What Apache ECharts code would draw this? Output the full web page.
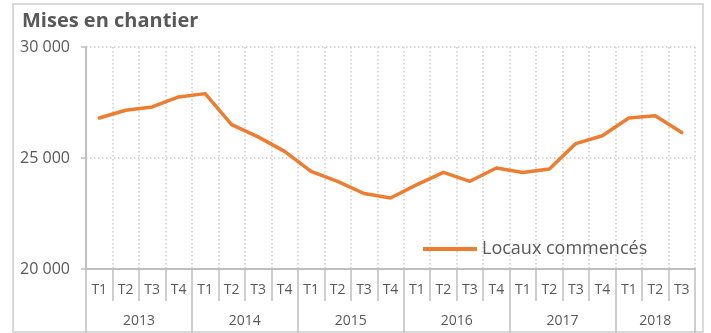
<!DOCTYPE html>
<html>
<head>
<meta charset="utf-8">
<style>
  html, body { margin: 0; padding: 0; background: #ffffff; }
  #chart { width: 711px; height: 333px; }
</style>
<script src="https://cdn.jsdelivr.net/npm/echarts@6/dist/echarts.min.js"></script>
</head>
<body>
<div id="chart"></div>
<script>
// Quarterly housing starts, 2013 T1 to 2018 T3
const quarters = ['T1','T2','T3','T4','T1','T2','T3','T4','T1','T2','T3','T4',
                  'T1','T2','T3','T4','T1','T2','T3','T4','T1','T2','T3'];
const years = ['2013','2014','2015','2016','2017','2018'];
const quartersPerYear = [4, 4, 4, 4, 4, 3];
const locauxCommences = [26800, 27150, 27300, 27750, 27900,
                         26500, 25950, 25300,
                         24400, 23950, 23400, 23200,
                         23800, 24350, 23950, 24550,
                         24350, 24500, 25650, 26000,
                         26800, 26900, 26150];
const yTicks = [20000, 25000, 30000];

// Year boundaries and label centres on a 0..n value scale
const yearEdges = [0];
const yearCentres = [];
quartersPerYear.forEach(function (n) {
  const start = yearEdges[yearEdges.length - 1];
  yearCentres.push(start + n / 2);
  yearEdges.push(start + n);
});

const TEXT = '#595959';
const AXIS = '#bfbfbf';
const GRID = '#cccccc';
const FONT = '"Open Sans", "Noto Sans", sans-serif';
const ORANGE = '#ED7D31';

const chart = echarts.init(document.getElementById('chart'), null, { renderer: 'canvas' });

chart.setOption({
  backgroundColor: '#ffffff',
  animation: false,
  title: {
    text: 'Mises en chantier',
    left: 17,
    top: 6,
    textStyle: { fontFamily: FONT, fontSize: 20, fontWeight: 'bold', color: TEXT }
  },
  graphic: [{
    type: 'rect',
    shape: { x: 13, y: 4, width: 690, height: 328 },
    style: { fill: 'none', stroke: '#d9d9d9', lineWidth: 2 },
    silent: true,
    z: -10
  }],
  legend: {
    left: 418,
    top: 235,
    icon: 'rect',
    itemWidth: 54,
    itemHeight: 4,
    itemGap: 4,
    textStyle: { fontFamily: FONT, fontSize: 18, color: TEXT },
    data: ['Locaux commencés']
  },
  grid: { left: 86, right: 16, top: 47, bottom: 64, containLabel: false },
  xAxis: [{
    type: 'category',
    data: quarters,
    boundaryGap: true,
    position: 'bottom',
    axisLine: { show: true, lineStyle: { color: AXIS, width: 2 } },
    axisTick: { show: true, interval: 0, length: 32, lineStyle: { color: AXIS, width: 1.5 } },
    axisLabel: { interval: 0, margin: 14, fontFamily: FONT, fontSize: 14, color: TEXT },
    splitLine: { show: true, interval: 0, lineStyle: { color: GRID, type: [1.5, 2.5], width: 1.5 } }
  }, {
    type: 'value',
    min: 0,
    max: quarters.length,
    position: 'bottom',
    axisLine: { show: false },
    splitLine: { show: false },
    axisTick: {
      show: true, length: 64, customValues: yearEdges,
      lineStyle: { color: AXIS, width: 1.5 }
    },
    axisLabel: {
      show: true,
      margin: 45,
      customValues: yearCentres,
      fontFamily: FONT, fontSize: 14, color: TEXT,
      formatter: function (v) {
        const i = yearCentres.indexOf(v);
        return i >= 0 ? years[i] : '';
      }
    }
  }],
  yAxis: {
    type: 'value',
    min: yTicks[0],
    max: yTicks[yTicks.length - 1],
    interval: yTicks[1] - yTicks[0],
    axisLine: { show: true, lineStyle: { color: AXIS, width: 2 } },
    axisTick: { show: true, length: 5, lineStyle: { color: AXIS, width: 1.5 } },
    axisLabel: {
      margin: 16,
      fontFamily: FONT, fontSize: 16, color: TEXT,
      formatter: function (v) {
        return String(v).replace(/\B(?=(\d{3})+(?!\d))/g, ' ');
      }
    },
    splitLine: { show: true, lineStyle: { color: GRID, type: [1.5, 2.5], width: 1.5 } }
  },
  series: [{
    name: 'Locaux commencés',
    type: 'line',
    data: locauxCommences,
    symbol: 'none',
    smooth: false,
    color: ORANGE,
    itemStyle: { color: ORANGE },
    lineStyle: { color: ORANGE, width: 3.5, join: 'round', cap: 'round' },
    z: 5
  }]
});
</script>
</body>
</html>
